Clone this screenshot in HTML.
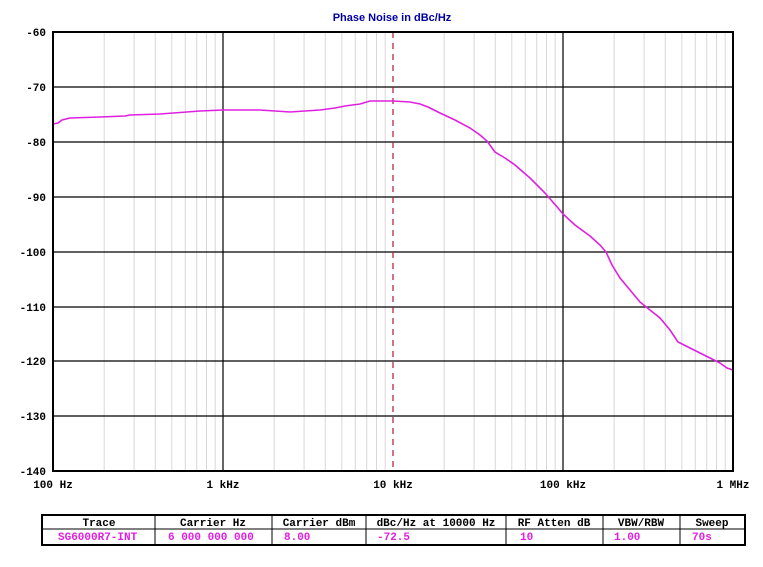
<!DOCTYPE html>
<html><head><meta charset="utf-8"><style>
body{margin:0;background:#fff;width:763px;height:562px;overflow:hidden}
svg text{font-family:"Liberation Mono",monospace;font-weight:bold;font-size:11px}
</style></head><body>
<svg width="763" height="562" xmlns="http://www.w3.org/2000/svg">
<text x="392" y="21" text-anchor="middle" fill="#0000a0" font-size="11" style="font-family:'Liberation Sans',sans-serif">Phase Noise in dBc/Hz</text>
<g stroke="#d8d8d8" stroke-width="1">
<line x1="104.2" y1="32" x2="104.2" y2="471"/><line x1="134.1" y1="32" x2="134.1" y2="471"/><line x1="155.3" y1="32" x2="155.3" y2="471"/><line x1="171.8" y1="32" x2="171.8" y2="471"/><line x1="185.3" y1="32" x2="185.3" y2="471"/><line x1="196.7" y1="32" x2="196.7" y2="471"/><line x1="206.5" y1="32" x2="206.5" y2="471"/><line x1="215.2" y1="32" x2="215.2" y2="471"/>
<line x1="274.2" y1="32" x2="274.2" y2="471"/><line x1="304.1" y1="32" x2="304.1" y2="471"/><line x1="325.3" y1="32" x2="325.3" y2="471"/><line x1="341.8" y1="32" x2="341.8" y2="471"/><line x1="355.3" y1="32" x2="355.3" y2="471"/><line x1="366.7" y1="32" x2="366.7" y2="471"/><line x1="376.5" y1="32" x2="376.5" y2="471"/><line x1="385.2" y1="32" x2="385.2" y2="471"/>
<line x1="444.2" y1="32" x2="444.2" y2="471"/><line x1="474.1" y1="32" x2="474.1" y2="471"/><line x1="495.3" y1="32" x2="495.3" y2="471"/><line x1="511.8" y1="32" x2="511.8" y2="471"/><line x1="525.3" y1="32" x2="525.3" y2="471"/><line x1="536.7" y1="32" x2="536.7" y2="471"/><line x1="546.5" y1="32" x2="546.5" y2="471"/><line x1="555.2" y1="32" x2="555.2" y2="471"/>
<line x1="614.2" y1="32" x2="614.2" y2="471"/><line x1="644.1" y1="32" x2="644.1" y2="471"/><line x1="665.3" y1="32" x2="665.3" y2="471"/><line x1="681.8" y1="32" x2="681.8" y2="471"/><line x1="695.3" y1="32" x2="695.3" y2="471"/><line x1="706.7" y1="32" x2="706.7" y2="471"/><line x1="716.5" y1="32" x2="716.5" y2="471"/><line x1="725.2" y1="32" x2="725.2" y2="471"/>
</g>
<g stroke="#000" stroke-width="1.2">
<line x1="53" y1="87" x2="733" y2="87"/><line x1="53" y1="142" x2="733" y2="142"/>
<line x1="53" y1="197" x2="733" y2="197"/><line x1="53" y1="252" x2="733" y2="252"/>
<line x1="53" y1="307" x2="733" y2="307"/><line x1="53" y1="361" x2="733" y2="361"/>
<line x1="53" y1="416" x2="733" y2="416"/>
<line x1="223" y1="32" x2="223" y2="471"/><line x1="563" y1="32" x2="563" y2="471"/>
</g>
<line x1="393" y1="32" x2="393" y2="471" stroke="#b01830" stroke-width="1.2" stroke-dasharray="6,5"/>
<polyline fill="none" stroke="#e020e0" stroke-width="1.6" points="53,124 58,123 62,120 70,118 100,117 125,116 130,115 160,114 200,111 223,110 260,110 290,112 320,110 335,108 345,106 360,104 370,101 393,101 410,102 420,104 428,107 440,113 455,120 470,128 480,135 487,141 495,152 505,158 515,165 530,178 545,193 558,208 563,214 575,225 590,236 600,245 606,252 612,265 620,278 630,290 640,302 650,310 660,318 670,330 678,342 690,348 700,353 710,358 720,363 727,368 733,370"/>
<rect x="53" y="32" width="680" height="439" fill="none" stroke="#000" stroke-width="2"/>
<g text-anchor="end">
<text x="46" y="36">-60</text><text x="46" y="91">-70</text><text x="46" y="146">-80</text>
<text x="46" y="201">-90</text><text x="46" y="256">-100</text><text x="46" y="311">-110</text>
<text x="46" y="365">-120</text><text x="46" y="420">-130</text><text x="46" y="475">-140</text>
</g>
<g text-anchor="middle" font-size="10">
<text x="53" y="488">100 Hz</text><text x="223" y="488">1 kHz</text><text x="393" y="488">10 kHz</text>
<text x="563" y="488">100 kHz</text><text x="733" y="488">1 MHz</text>
</g>
<rect x="42" y="515" width="703" height="30" fill="none" stroke="#000" stroke-width="2"/>
<g stroke="#000" stroke-width="1">
<line x1="42" y1="529" x2="745" y2="529"/>
<line x1="155" y1="515" x2="155" y2="545"/><line x1="272" y1="515" x2="272" y2="545"/>
<line x1="366" y1="515" x2="366" y2="545"/><line x1="506" y1="515" x2="506" y2="545"/>
<line x1="603" y1="515" x2="603" y2="545"/><line x1="680" y1="515" x2="680" y2="545"/>
</g>
<g text-anchor="middle" font-size="10">
<text x="99" y="526">Trace</text><text x="213" y="526">Carrier Hz</text><text x="319" y="526">Carrier dBm</text>
<text x="436" y="526">dBc/Hz at 10000 Hz</text><text x="554" y="526">RF Atten dB</text>
<text x="641" y="526">VBW/RBW</text><text x="712" y="526">Sweep</text>
</g>
<g fill="#e020e0" font-size="10">
<text x="58" y="540">SG6000R7-INT</text><text x="168" y="540">6 000 000 000</text>
<text x="284" y="540">8.00</text><text x="377" y="540">-72.5</text><text x="520" y="540">10</text>
<text x="614" y="540">1.00</text><text x="692" y="540">70s</text>
</g>
</svg>
</body></html>
